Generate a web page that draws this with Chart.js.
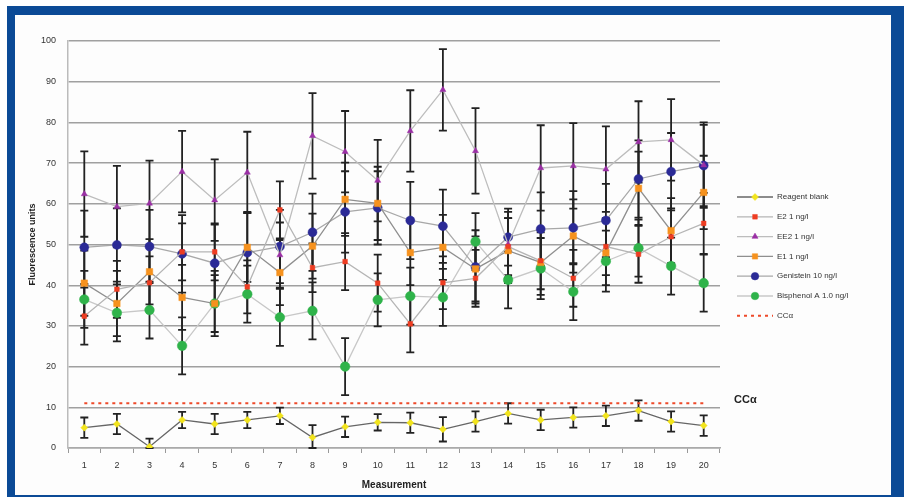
<!DOCTYPE html>
<html lang="en">
<head>
<meta charset="UTF-8">
<title>Fluorescence per measurement</title>
<script src="https://cdn.jsdelivr.net/npm/chart.js"></script>
<style>
  body { margin: 0; background: #fff; }
  #frame { position: absolute; left: 7px; top: 6px; width: 876px; height: 480px;
           border-style: solid; border-color: #0b4a96; border-width: 9px 14px 2px 8px; background: #fdfdfd; }
  #wrap { position: absolute; left: 0; top: 0; width: 904px; height: 497px; }
</style>
</head>
<body>
<div id="frame"></div>
<div id="wrap"><canvas id="myChart"></canvas></div>
<script>
// data
var labels = ['1','2','3','4','5','6','7','8','9','10','11','12','13','14','15','16','17','18','19','20'];
var seriesNames = ['Reagent blank', 'E2 1 ng/l', 'EE2 1 ng/l', 'E1 1 ng/l', 'Genistein 10 ng/l', 'Bisphenol A 1.0 ng/l'];
var ccName = 'CCα';
var ccValue = 11;

var blank    = [5, 5.9, 0.3, 6.9, 5.9, 6.9, 7.9, 2.6, 5.2, 6.3, 6.2, 4.6, 6.5, 8.5, 6.9, 7.5, 7.9, 9.2, 6.5, 5.5];
var e2       = [32.4, 39, 40.6, 48.2, 48.2, 39.6, 58.5, 44.3, 45.8, 40.5, 30.5, 40.6, 41.7, 49.5, 46, 41.7, 49.5, 47.6, 51.9, 55.2];
var ee2      = [62.4, 59.3, 60.1, 67.9, 60.9, 67.7, 47.4, 76.7, 72.8, 65.7, 77.9, 88, 73, 50, 68.8, 69.3, 68.5, 75.2, 75.7, 69.5];
var e1       = [40.5, 35.5, 43.3, 37, 35.5, 49.3, 43.1, 49.6, 61.1, 60.1, 48, 49.3, 44, 48.5, 45.6, 52.1, 48, 63.8, 53.4, 62.8];
var genist   = [49.3, 49.9, 49.5, 47.7, 45.4, 48, 49.5, 53, 58, 59, 55.9, 54.5, 44.5, 51.8, 53.8, 54.1, 55.9, 66.1, 67.9, 69.4];
var bpa      = [36.5, 33.2, 33.9, 25.1, 35.5, 37.8, 32.1, 33.7, 20, 36.4, 37.3, 37, 50.7, 41.3, 44.1, 38.4, 45.9, 49.1, 44.7, 40.5];

var errBlank  = [2.5, 2.5, 2, 2, 2.5, 2, 2, 3, 2.5, 2, 2.5, 3, 2.5, 2.5, 2.5, 2.5, 2.5, 2.5, 2.5, 2.5];
var errE2     = [7, 7, 6.5, 7, 7, 6.5, 7, 6, 7, 7, 7, 6.5, 7, 7, 7, 7, 7, 7, 7, 7.5];
var errEe2    = [10.5, 10, 10.5, 10, 10, 10, 8, 10.5, 10, 10, 10, 10, 10.5, 8, 10.5, 10.5, 10.5, 10, 10, 10.5];
var errE1     = [8, 8, 8, 8, 8, 8.5, 8, 8, 9, 9, 8, 8, 8, 8, 8, 9, 8, 9, 8, 9];
var errGenist = [9, 9, 9, 9.5, 9.5, 10, 9, 9.5, 10, 9, 9.5, 9, 9, 7, 9, 9, 9, 9.5, 9.5, 10];
var errBpa    = [7, 7, 7, 7, 7, 7, 7, 7, 7, 6.5, 7, 7, 7, 7, 7.5, 7, 7.5, 7, 7, 7];

var yTicks = [0, 10, 20, 30, 40, 50, 60, 70, 80, 90, 100];

function series(i, values, errors, color, style, radius, lineColor) {
  return {
    label: seriesNames[i], data: values, errors: errors,
    borderColor: lineColor, borderWidth: 1.3, tension: 0,
    pointStyle: style, pointRadius: radius, pointBorderWidth: 0.5,
    pointBackgroundColor: color, pointBorderColor: color, fill: false
  };
}

var datasets = [
  series(0, blank, errBlank, '#f2e41c', 'rectRot', 3.5, '#666666'),
  series(1, e2, errE2, '#ee3d22', 'rect', 3.3, '#b5b5b5'),
  series(2, ee2, errEe2, '#9a2fa5', 'triangle', 3.5, '#bdbdbd'),
  series(3, e1, errE1, '#f6921e', 'rect', 4.6, '#8f8f8f'),
  series(4, genist, errGenist, '#2b2a96', 'circle', 4.5, '#a8a8a8'),
  series(5, bpa, errBpa, '#2fb34a', 'circle', 4.8, '#c8c8c8'),
  {
    label: ccName, data: labels.map(function () { return ccValue; }),
    borderColor: '#ee4a2a', borderWidth: 2.2, borderDash: [3, 4], pointRadius: 0, fill: false
  }
];

var errorBars = {
  id: 'errorBars',
  beforeDatasetsDraw: function (chart) {
    var ctx = chart.ctx, y = chart.scales.y;
    ctx.save();
    ctx.strokeStyle = '#222';
    ctx.lineWidth = 1.8;
    chart.data.datasets.forEach(function (ds, di) {
      if (!ds.errors) return;
      var meta = chart.getDatasetMeta(di);
      meta.data.forEach(function (pt, i) {
        var v = ds.data[i], e = ds.errors[i];
        var top = y.getPixelForValue(v + e), bot = y.getPixelForValue(Math.max(v - e, 0));
        ctx.beginPath();
        ctx.moveTo(pt.x, top); ctx.lineTo(pt.x, bot);
        ctx.moveTo(pt.x - 4, top); ctx.lineTo(pt.x + 4, top);
        ctx.moveTo(pt.x - 4, bot); ctx.lineTo(pt.x + 4, bot);
        ctx.stroke();
      });
    });
    ctx.restore();
  }
};

var sideLegend = {
  id: 'sideLegend',
  afterDraw: function (chart) {
    var ctx = chart.ctx, area = chart.chartArea;
    var x0 = area.right + 17, y0 = 197;
    ctx.save();
    ctx.font = '8px "Liberation Sans", Arial, sans-serif';
    ctx.textBaseline = 'middle';
    chart.data.datasets.forEach(function (ds, i) {
      var yy = y0 + i * 19.8;
      ctx.beginPath();
      ctx.strokeStyle = ds.borderColor;
      ctx.lineWidth = ds.borderDash ? 2 : 1.3;
      ctx.setLineDash(ds.borderDash || []);
      ctx.moveTo(x0, yy); ctx.lineTo(x0 + 36, yy);
      ctx.stroke();
      ctx.setLineDash([]);
      if (ds.pointRadius) {
        ctx.fillStyle = ds.pointBackgroundColor;
        ctx.strokeStyle = ds.pointBorderColor;
        ctx.lineWidth = 0.5;
        Chart.helpers.drawPoint(ctx, {
          pointStyle: ds.pointStyle, radius: Math.min(ds.pointRadius, 3.8), rotation: 0, borderWidth: 0.5
        }, x0 + 18, yy);
      }
      ctx.fillStyle = '#333';
      ctx.fillText(ds.label, x0 + 40, yy);
    });
    // CCα label next to the limit line
    ctx.font = 'bold 11px "Liberation Sans", Arial, sans-serif';
    ctx.fillStyle = '#222';
    ctx.textBaseline = 'bottom';
    ctx.fillText(ccName, area.right + 14, chart.scales.y.getPixelForValue(ccValue) + 2);
    ctx.restore();
  }
};

var ctx = document.getElementById('myChart').getContext('2d');
var chart = new Chart(ctx, {
  type: 'line',
  data: { labels: labels, datasets: datasets },
  options: {
    responsive: true, maintainAspectRatio: false, animation: false,
    layout: { padding: { left: 27, top: 41, right: 184, bottom: 4 } },
    plugins: { legend: { display: false }, tooltip: { enabled: false } },
    scales: {
      x: {
        offset: true,
        grid: { offset: true, drawOnChartArea: false, drawTicks: true, tickLength: 5, color: '#999' },
        border: { color: '#aaa', width: 1.5 },
        ticks: { color: '#333', padding: 7, font: { size: 9, family: '"Liberation Sans", Arial' }, maxRotation: 0 },
        title: { display: true, text: 'Measurement', color: '#222', padding: { top: 0, bottom: 2 },
                 font: { size: 10, weight: 'bold', family: '"Liberation Sans", Arial' } },
        afterFit: function (s) { s.height = 45; }
      },
      y: {
        min: 0, max: 100,
        afterBuildTicks: function (s) { s.ticks = yTicks.map(function (v) { return { value: v }; }); },
        grid: { drawTicks: false, color: '#a0a0a0', lineWidth: 1.4 },
        border: { color: '#bbb', width: 1.5 },
        ticks: { color: '#333', padding: 12, font: { size: 9, family: '"Liberation Sans", Arial' } },
        title: { display: true, text: 'Fluorescence units', color: '#222', padding: { top: 0, bottom: 0 },
                 font: { size: 9, weight: 'bold', family: '"Liberation Sans", Arial' } },
        afterFit: function (s) { s.width = 41; }
      }
    }
  },
  plugins: [errorBars, sideLegend]
});
</script>
</body>
</html>
